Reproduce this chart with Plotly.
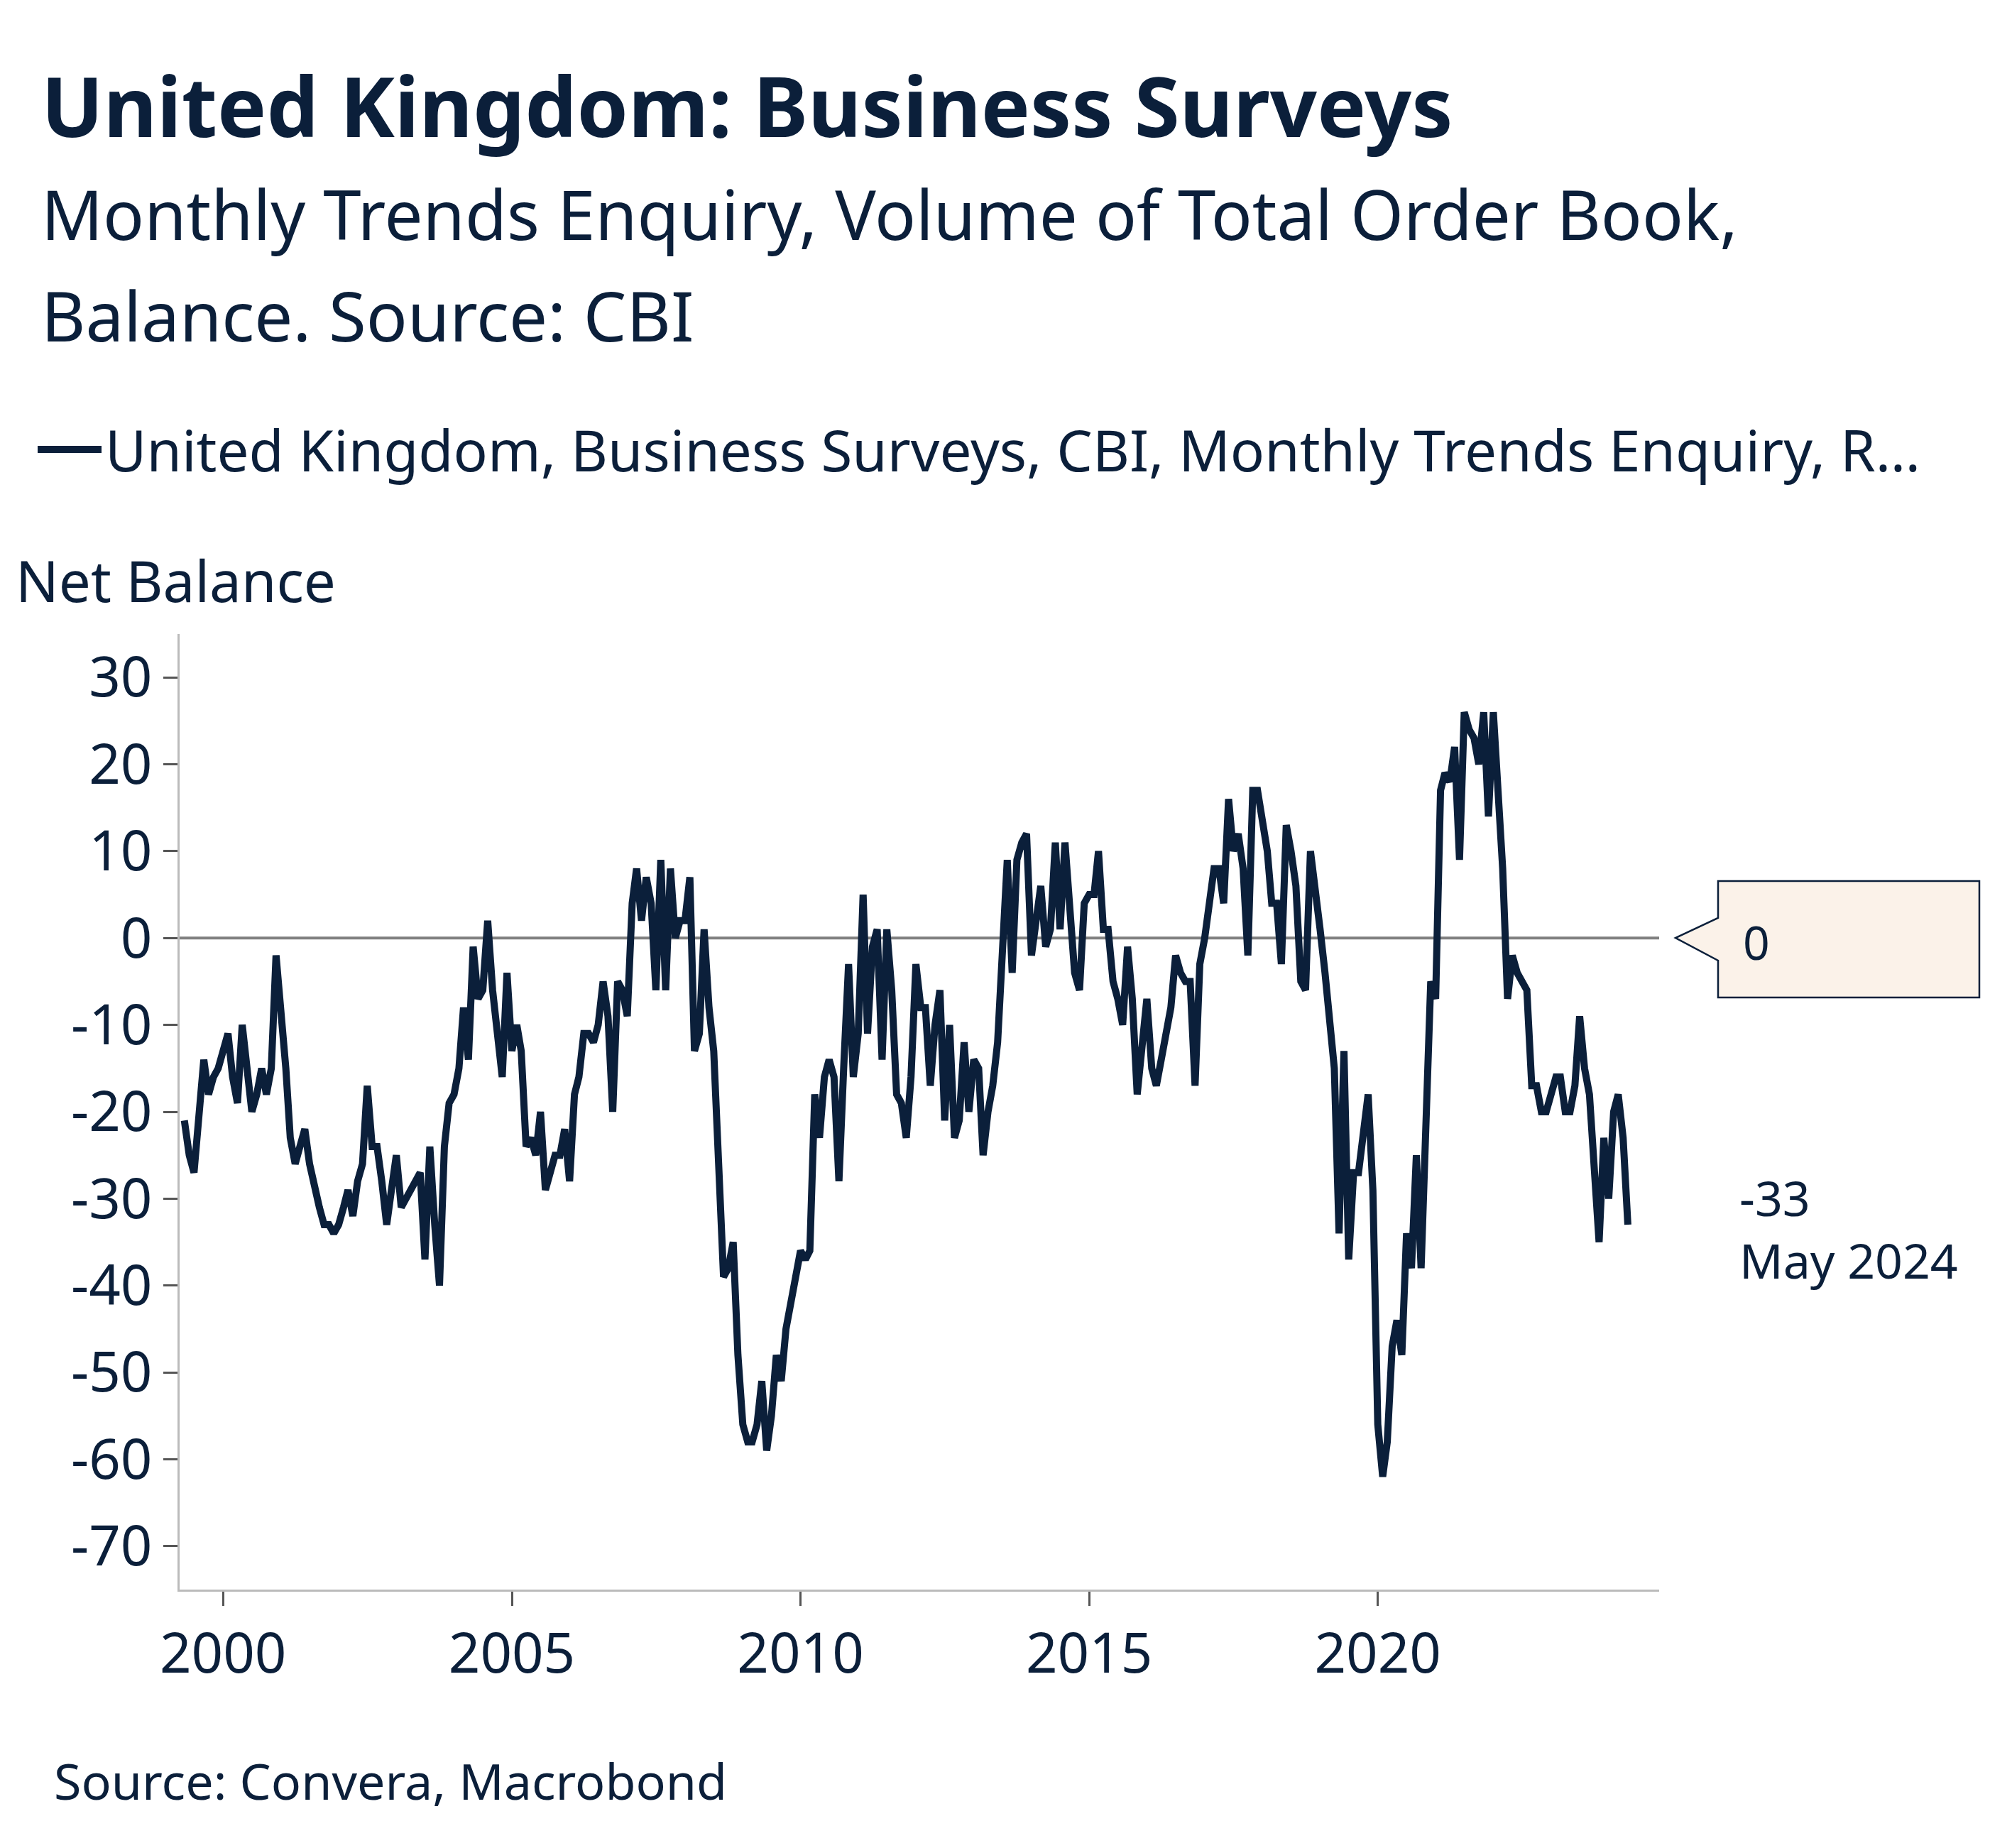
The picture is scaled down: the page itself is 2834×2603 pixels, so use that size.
import pandas as pd
import plotly.graph_objects as go

W, H = 2834, 2603
ML, MR, MT, MB = 245, 505, 885, 372

# monthly balance, May 1999 .. May 2024
v1999 = [-21, -25, -27, -21, -14, -18, -16, -15]
v2000 = [-13, -11, -16, -19, -10, -16, -20, -18, -15, -18, -15, -2]
v2001 = [-8, -15, -23, -26, -24, -22, -26, -29, -31, -33, -33, -34]
v2002 = [-33, -31, -29, -32, -28, -26, -17, -24, -24, -28, -33, -29]
v2003 = [-25, -31, -30, -29, -28, -27, -37, -24, -33, -40, -24, -19]
v2004 = [-18, -15, -8, -14, -1, -7, -6, 2, -6, -12, -16, -4]
v2005 = [-13, -10, -13, -24, -23, -25, -20, -29, -27, -25, -25, -22]
v2006 = [-28, -18, -16, -11, -11, -12, -10, -5, -9, -20, -5, -6]
v2007 = [-9, 4, 8, 2, 7, 4, -6, 9, -6, 8, 0, 2]
v2008 = [2, 7, -13, -11, 1, -8, -13, -26, -39, -38, -35, -48]
v2009 = [-56, -58, -58, -56, -51, -59, -55, -48, -51, -45, -42, -39]
v2010 = [-36, -37, -36, -18, -23, -16, -14, -16, -28, -15, -3, -16]
v2011 = [-11, 5, -11, -1, 1, -14, 1, -6, -18, -19, -23, -16]
v2012 = [-3, -8, -8, -17, -10, -6, -21, -10, -23, -21, -12, -20]
v2013 = [-14, -15, -25, -20, -17, -12, -3, 9, -4, 9, 11, 12]
v2014 = [-2, 3, 6, -1, 1, 11, 1, 11, 2, -4, -6, 4]
v2015 = [5, 5, 10, 1, 1, -5, -7, -10, -1, -7, -18, -13]
v2016 = [-7, -15, -17, -14, -11, -8, -2, -4, -5, -5, -17, -3]
v2017 = [0, 5, 8, 8, 4, 16, 10, 12, 8, -2, 17, 17]
v2018 = [14, 10, 4, 4, -3, 13, 10, 6, -5, -6, 10, 6]
v2019 = [1, -4, -10, -15, -34, -13, -37, -27, -27, -22, -18, -29]
v2020 = [-56, -62, -58, -47, -44, -48, -34, -38, -25, -38, -23, -5]
v2021 = [-7, 17, 19, 18, 22, 9, 26, 24, 23, 20, 26, 14]
v2022 = [26, 17, 8, -7, -2, -4, -5, -6, -17, -17, -20, -20]
v2023 = [-18, -16, -16, -20, -20, -17, -9, -15, -18, -26, -35, -23]
v2024 = [-30, -20, -18, -23, -33]

values = (v1999 + v2000 + v2001 + v2002 + v2003 + v2004 + v2005 + v2006 + v2007
          + v2008 + v2009 + v2010 + v2011 + v2012 + v2013 + v2014 + v2015 + v2016
          + v2017 + v2018 + v2019 + v2020 + v2021 + v2022 + v2023 + v2024)
dates = pd.date_range("1999-05-01", periods=len(values), freq="MS")

y_ticks = [30, 20, 10, 0, -10, -20, -30, -40, -50, -60, -70]
y_labels = [str(v) for v in y_ticks]
x_ticks = ["2000-01-01", "2005-01-01", "2010-01-01", "2015-01-01", "2020-01-01"]
x_labels = ["2000", "2005", "2010", "2015", "2020"]

NAVY = "#0b1f3a"
FONT = "Noto Sans"
PH = H - MT - MB
PW = W - ML - MR


def py(pix):
    return (H - MB - pix) / PH


def px_(pix):
    return (pix - ML) / PW


fig = go.Figure()
fig.add_trace(go.Scatter(
    x=dates, y=values, mode="lines",
    line=dict(color=NAVY, width=10),
    name="United Kingdom, Business Surveys, CBI, Monthly Trends Enquiry, R…",
))
fig.add_hline(y=0, line=dict(color="#808080", width=4), layer="below")

fig.update_layout(
    width=W, height=H,
    margin=dict(l=ML, r=MR, t=MT, b=MB),
    plot_bgcolor="white", paper_bgcolor="white",
    font=dict(family=FONT, color=NAVY),
    showlegend=True,
    legend=dict(x=px_(40), y=py(625), xref="paper", yref="paper",
                xanchor="left", yanchor="middle", orientation="h",
                font=dict(size=80, color=NAVY), itemwidth=90),
    xaxis=dict(range=["1999-04-01", "2024-11-15"], tickvals=x_ticks,
               ticktext=x_labels, showgrid=False, ticks="outside",
               ticklen=20, tickwidth=3, tickcolor="#555",
               showline=True, linecolor="#bbbbbb", linewidth=3,
               tickfont=dict(size=78, color=NAVY), zeroline=False),
    yaxis=dict(range=[-75, 35], tickvals=y_ticks, ticktext=y_labels, showgrid=False,
               ticks="outside", ticklen=20, tickwidth=3, tickcolor="#555",
               showline=True, linecolor="#bbbbbb", linewidth=3,
               tickfont=dict(size=78, color=NAVY), zeroline=False),
)

texts = [
    ("<b>United Kingdom: Business Surveys</b>", 48, 140, 116),
    ("Monthly Trends Enquiry, Volume of Total Order Book,", 48, 292, 96),
    ("Balance. Source: CBI", 48, 435, 96),
    ("Net Balance", 12, 808, 80),
    ("Source: Convera, Macrobond", 66, 2500, 70),
]
for t, x, y, s in texts:
    fig.add_annotation(text=t, x=px_(x), y=py(y), xref="paper", yref="paper",
                       xanchor="left", yanchor="middle", showarrow=False,
                       font=dict(size=s, color=NAVY, family=FONT))

# last value label
fig.add_annotation(text="-33<br>May 2024", x=px_(2440), y=py(1722), xref="paper",
                   yref="paper", xanchor="left", yanchor="middle", showarrow=False,
                   align="left", font=dict(size=68, color=NAVY, family=FONT))

# callout box for the zero line
bx0, bx1, by0, by1 = 2412, 2780, 1233, 1397
fig.add_shape(type="path", xref="paper", yref="paper",
              path=(f"M {px_(bx0)},{py(by0)} L {px_(bx1)},{py(by0)} L {px_(bx1)},{py(by1)} "
                    f"L {px_(bx0)},{py(by1)} L {px_(bx0)},{py(1345)} L {px_(2352)},{py(1313)} "
                    f"L {px_(bx0)},{py(1285)} Z"),
              fillcolor="#fbf2e9", line=dict(color=NAVY, width=2.5))
fig.add_annotation(text="0", x=px_(2445), y=py(1318), xref="paper", yref="paper",
                   xanchor="left", yanchor="middle", showarrow=False,
                   font=dict(size=66, color=NAVY, family=FONT))

fig.write_html("out.html")
